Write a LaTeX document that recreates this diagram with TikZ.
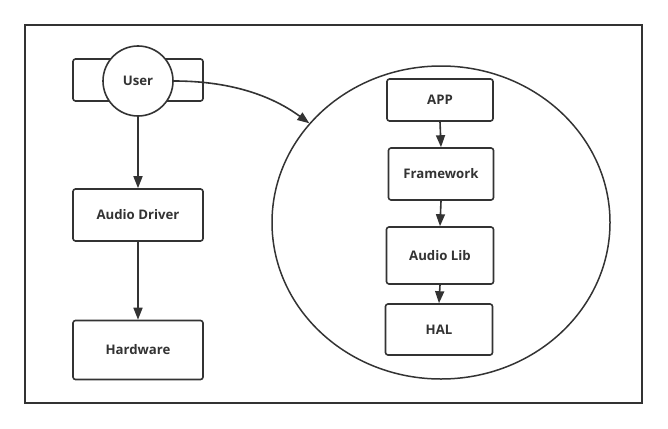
\documentclass[tikz,border=0pt]{standalone}
\usepackage{fontspec}
\setmainfont{Open Sans}
\usetikzlibrary{arrows.meta,shapes.geometric}

\begin{document}
\begin{tikzpicture}[x=1pt,y=-1pt,
		line width=1.6pt, draw=black!80,
		blk/.style = {draw, rounded corners=2.5pt, fill=white, text=black!80,
			font=\fontsize{13.2}{15}\selectfont\bfseries, inner sep=0pt},
		arr/.style = {-{Triangle[length=12pt,width=9pt]}, black!80}
		]
		\useasboundingbox (0,0) rectangle (668,428);
		% 外枠
		\draw [line width=2pt] (25,25) rectangle (642,403);
		% 左側
		\node [blk, minimum width=130pt, minimum height=42pt] (userbg) at (138,80) {};
		\node [blk, circle, minimum size=70pt] (user) at (138,81) {User};
		\node [blk, minimum width=130pt, minimum height=52pt] (drv) at (138,215) {Audio Driver};
		\node [blk, minimum width=130pt, minimum height=59pt] (hw) at (138,350) {Hardware};
		% 右側
		\node [draw, ellipse, line width=1.5pt, minimum width=338pt, minimum height=313pt,
			inner sep=0pt] (sys) at (441,222.5) {};
		\node [blk, minimum width=106pt, minimum height=42pt] (app) at (440,100) {APP};
		\node [blk, minimum width=105pt, minimum height=52pt] (fw) at (441,174) {Framework};
		\node [blk, minimum width=107pt, minimum height=57pt] (lib) at (440,255.5) {Audio Lib};
		\node [blk, minimum width=107pt, minimum height=51pt] (hal) at (439,329.5) {HAL};
		% 矢印
		\draw [arr] (user) -- (drv);
		\draw [arr] (drv) -- (hw);
		\draw [arr] (app.south) -- (fw.north);
		\draw [arr] (fw.south) -- (lib.north);
		\draw [arr] (lib.south) -- (hal.north);
		\draw [arr] (user.east) .. controls (235,81) and (275,98) .. (sys.143);
	\end{tikzpicture}
\end{document}
